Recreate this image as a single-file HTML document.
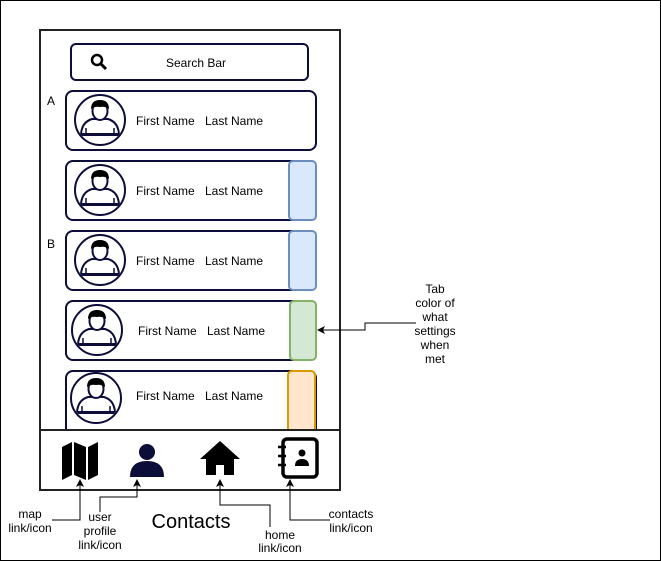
<!DOCTYPE html>
<html><head><style>body{margin:0;background:#fff}svg{display:block}text{font-family:"Liberation Sans",Arial,sans-serif;font-size:12px;fill:#000}</style></head><body>
<svg width="661" height="561" viewBox="0 0 661 561">
<defs>
<symbol id="av" viewBox="-28 -28 56 56" overflow="visible">
<circle cx="0" cy="0" r="25" fill="#fff" stroke="#0d0d3a" stroke-width="2"/>
<clipPath id="cc"><circle cx="0" cy="0" r="24"/></clipPath>
<g clip-path="url(#cc)">
<path d="M-19 14 Q-18 2 -8 -1 L8 -1 Q18 2 19 14 Z" fill="#fff" stroke="#0d0d3a" stroke-width="2"/>
<line x1="-14" y1="8" x2="-14" y2="16" stroke="#0d0d3a" stroke-width="1.5"/>
<line x1="14" y1="8" x2="14" y2="16" stroke="#0d0d3a" stroke-width="1.5"/>
<line x1="-25" y1="15" x2="25" y2="15" stroke="#0d0d3a" stroke-width="2"/>
</g>
<ellipse cx="0" cy="-9" rx="7.5" ry="9" fill="#fff" stroke="#0d0d3a" stroke-width="2"/>
<path d="M-9 -11 Q-9 -20 0 -20 Q9 -20 9 -11 Q5 -14 0 -13 Q-5 -14 -9 -11Z" fill="#000"/>
</symbol>
<marker id="ar" markerWidth="8" markerHeight="8" refX="7" refY="4" orient="auto" markerUnits="userSpaceOnUse"><path d="M0,0 L8,4 L0,8 L2,4 Z" fill="#000"/></marker>
</defs>
<rect x="0.5" y="0.5" width="660" height="560" fill="#fff" stroke="#000"/>
<rect x="40" y="30" width="300" height="460" fill="#fff" stroke="#222" stroke-width="2"/>
<rect x="71" y="44" width="237" height="36" rx="5" fill="#fff" stroke="#0d0d3a" stroke-width="2"/>
<circle cx="97" cy="60" r="5" fill="none" stroke="#000" stroke-width="2.5"/>
<line x1="101" y1="64" x2="106" y2="69" stroke="#000" stroke-width="3"/>
<text x="196" y="67" text-anchor="middle">Search Bar</text>
<text x="47" y="105">A</text>
<text x="47" y="248">B</text>
<rect x="66" y="91" width="250" height="59" rx="7" fill="#fff" stroke="#0d0d3a" stroke-width="2"/>
<use href="#av" x="72" y="92" width="56" height="56"/>
<text x="136" y="125">First Name</text><text x="205" y="125">Last Name</text>
<rect x="66" y="161" width="250" height="59" rx="7" fill="#fff" stroke="#0d0d3a" stroke-width="2"/>
<rect x="289" y="161" width="27" height="59" rx="4" fill="#dae8fc" stroke="#6c8ebf" stroke-width="2"/>
<use href="#av" x="72" y="162" width="56" height="56"/>
<text x="136" y="195">First Name</text><text x="205" y="195">Last Name</text>
<rect x="66" y="231" width="250" height="59" rx="7" fill="#fff" stroke="#0d0d3a" stroke-width="2"/>
<rect x="289" y="231" width="27" height="59" rx="4" fill="#dae8fc" stroke="#6c8ebf" stroke-width="2"/>
<use href="#av" x="72" y="232" width="56" height="56"/>
<text x="136" y="265">First Name</text><text x="205" y="265">Last Name</text>
<rect x="66" y="301" width="250" height="59" rx="7" fill="#fff" stroke="#0d0d3a" stroke-width="2"/>
<rect x="290" y="301" width="26" height="59" rx="4" fill="#d5e8d4" stroke="#82b366" stroke-width="2"/>
<use href="#av" x="69" y="302" width="56" height="56"/>
<text x="138" y="335">First Name</text><text x="207" y="335">Last Name</text>
<rect x="66" y="371" width="250" height="66" rx="7" fill="#fff" stroke="#0d0d3a" stroke-width="2"/>
<rect x="288" y="371" width="27" height="66" rx="4" fill="#ffe6cc" stroke="#d79b00" stroke-width="2"/>
<use href="#av" x="68" y="370" width="56" height="56"/>
<text x="136" y="400">First Name</text><text x="205" y="400">Last Name</text>
<rect x="40" y="430" width="300" height="60" fill="#fff" stroke="#222" stroke-width="2"/>
<path d="M62 447 L72 442 L72 475 L62 480 Z M74 442 L86 447 L86 480 L74 475 Z M88 447 L98 442 L98 475 L88 480 Z" fill="#000"/>
<circle cx="147" cy="452" r="8" fill="#0d0d3a"/>
<path d="M130 477 Q130 461 147 461 Q164 461 164 477 Z" fill="#0d0d3a"/>
<path d="M200 459 L220 441 L240 459 L234 459 L234 475 L224 475 L224 465 L216 465 L216 475 L206 475 L206 459 Z" fill="#000"/>
<rect x="283" y="439" width="34" height="38" rx="4" fill="#fff" stroke="#000" stroke-width="3.5"/>
<circle cx="302" cy="453" r="3.5" fill="#000"/>
<path d="M295 466 Q295 459 302 459 Q309 459 309 466 Z" fill="#000"/>
<g stroke="#000" stroke-width="2.5"><line x1="278" y1="447" x2="286" y2="447"/><line x1="278" y1="456" x2="286" y2="456"/><line x1="278" y1="465" x2="286" y2="465"/></g>
<g fill="none" stroke="#000" stroke-width="1">
<path d="M52 520 L80 520 L80 480" marker-end="url(#ar)"/>
<path d="M100 512 L100 497 L137 497 L137 480" marker-end="url(#ar)"/>
<path d="M270 527 L270 505 L220 505 L220 480" marker-end="url(#ar)"/>
<path d="M330 520 L290 520 L290 480" marker-end="url(#ar)"/>
<path d="M416 323 L365 323 L365 330 L318 330" marker-end="url(#ar)"/>
</g>
<text x="30" y="518" text-anchor="middle">map</text>
<text x="30" y="532" text-anchor="middle">link/icon</text>
<text x="100" y="521" text-anchor="middle">user</text>
<text x="100" y="535" text-anchor="middle">profile</text>
<text x="100" y="549" text-anchor="middle">link/icon</text>
<text x="191" y="528" text-anchor="middle" style="font-size:20px">Contacts</text>
<text x="280" y="539" text-anchor="middle">home</text>
<text x="280" y="552" text-anchor="middle">link/icon</text>
<text x="351" y="518" text-anchor="middle">contacts</text>
<text x="351" y="532" text-anchor="middle">link/icon</text>
<g text-anchor="middle"><text x="435" y="293">Tab</text><text x="435" y="307">color of</text><text x="435" y="321">what</text><text x="435" y="335">settings</text><text x="435" y="349">when</text><text x="435" y="363">met</text></g>
</svg>
</body></html>
